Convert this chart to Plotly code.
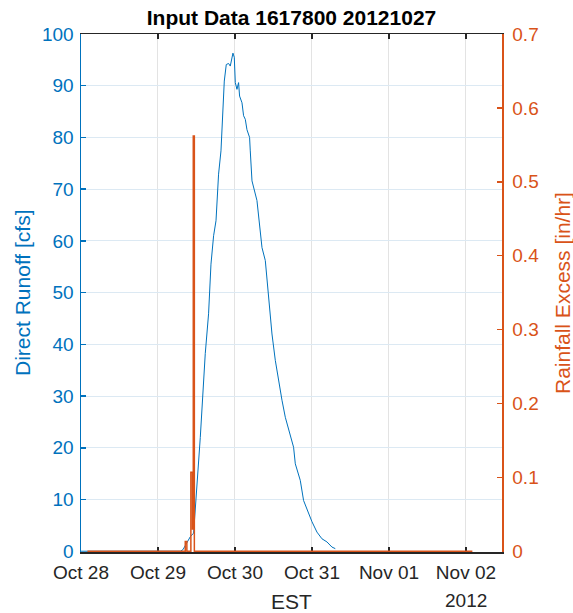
import plotly.graph_objects as go

# ---- data ----
runoff_time = [
    "2012-10-28 00:00", "2012-10-29 07:00", "2012-10-29 07:47", "2012-10-29 10:04",
    "2012-10-29 11:06", "2012-10-29 13:11", "2012-10-29 14:44", "2012-10-29 15:46",
    "2012-10-29 16:31", "2012-10-29 17:20", "2012-10-29 18:05", "2012-10-29 18:53",
    "2012-10-29 19:38", "2012-10-29 19:57", "2012-10-29 20:40", "2012-10-29 21:17",
    "2012-10-29 22:00", "2012-10-29 22:32", "2012-10-29 22:51", "2012-10-29 23:22",
    "2012-10-29 23:47", "2012-10-30 00:06", "2012-10-30 00:37", "2012-10-30 01:07",
    "2012-10-30 01:26", "2012-10-30 02:11", "2012-10-30 02:41", "2012-10-30 03:13",
    "2012-10-30 03:44", "2012-10-30 04:33", "2012-10-30 04:46", "2012-10-30 05:18",
    "2012-10-30 06:51", "2012-10-30 07:53", "2012-10-30 08:25", "2012-10-30 09:27",
    "2012-10-30 09:58", "2012-10-30 10:28", "2012-10-30 11:32", "2012-10-30 12:34",
    "2012-10-30 13:35", "2012-10-30 14:39", "2012-10-30 15:41", "2012-10-30 17:14",
    "2012-10-30 18:16", "2012-10-30 18:48", "2012-10-30 20:21", "2012-10-30 21:23",
    "2012-10-30 22:56", "2012-10-31 00:00", "2012-10-31 01:33", "2012-10-31 03:07",
    "2012-10-31 04:40", "2012-10-31 06:14", "2012-10-31 07:16",
]
runoff_cfs = [
    0, 0, 0.3, 2.8,
    3.5, 22, 38.2, 45.9,
    55.5, 61, 63.9, 72.9,
    77.4, 81.3, 90.9, 94.1,
    94.3, 93.8, 94.8, 96.3,
    95.5, 90.6, 89.3, 90.6,
    88, 86.7, 84.2, 83.5,
    81.5, 80, 77.4, 71.6,
    67.8, 62, 58.7, 56.2,
    52.3, 48.5, 42, 36.9,
    33, 29.2, 25.9, 22.7,
    20.1, 16.9, 13.7, 9.8,
    7.3, 5.7, 3.7, 2.4,
    1.8, 0.8, 0.5,
]

rain_time = [
    "2012-10-28 02:00", "2012-10-29 08:30", "2012-10-29 09:00", "2012-10-29 10:15",
    "2012-10-29 10:45", "2012-10-29 11:00", "2012-10-29 11:20", "2012-11-02 02:00",
]
rain_inhr = [0, 0.013, 0, 0.107, 0.03, 0.562, 0, 0]

tick_dates = ["2012-10-28", "2012-10-29", "2012-10-30", "2012-10-31", "2012-11-01", "2012-11-02"]
tick_labels = ["Oct 28", "Oct 29", "Oct 30", "Oct 31", "Nov 01", "Nov 02"]

BLUE = "#0072BD"
ORANGE = "#D95319"
DARK = "#262626"
FONT = "Liberation Sans, Arial, sans-serif"

W, H = 573, 613
PLOT_H = 518
PAD = 0.0015  # tiny bottom padding (fraction of range) so zero-level lines sit on the axis line

fig = go.Figure()
fig.add_trace(go.Scatter(x=runoff_time, y=runoff_cfs, mode="lines",
                         line=dict(color=BLUE, width=1), yaxis="y", showlegend=False))
fig.add_trace(go.Scatter(x=rain_time, y=rain_inhr, mode="lines", line_shape="hv",
                         line=dict(color=ORANGE, width=1.5), yaxis="y2", showlegend=False))

fig.update_layout(
    width=W, height=H,
    margin=dict(l=81, r=71, t=34, b=H - 34 - PLOT_H, autoexpand=False),
    paper_bgcolor="white", plot_bgcolor="white",
    font=dict(family=FONT, size=19, color=DARK),
    title=dict(text="<b>Input Data 1617800 20121027</b>", x=0.5, xanchor="center",
               xref="paper", y=1 - 18 / H, yanchor="middle",
               font=dict(size=21, color="black")),
    xaxis=dict(
        type="date", range=["2012-10-28 00:00", "2012-11-02 11:14"],
        tickmode="array", tickvals=tick_dates, ticktext=tick_labels,
        ticks="inside", ticklen=5, tickwidth=1.5, tickcolor=DARK,
        showline=True, linecolor=DARK, linewidth=1.5, mirror="ticks",
        showgrid=True, gridcolor="#e3e3e3", gridwidth=1,
        zeroline=False, layer="below traces", automargin=False,
        ticklabelstandoff=3,
        tickfont=dict(size=19, color=DARK),
    ),
    yaxis=dict(
        range=[-100 * PAD, 100], tickmode="linear", tick0=0, dtick=10,
        ticks="inside", ticklen=5, tickwidth=1.5, tickcolor=BLUE,
        showline=True, linecolor=BLUE, linewidth=1.5,
        showgrid=True, gridcolor="#dce9f3", gridwidth=1,
        zeroline=False, automargin=False, ticklabelstandoff=2,
        tickfont=dict(size=19, color=BLUE),
    ),
    yaxis2=dict(
        range=[-0.7 * PAD, 0.7], tickmode="linear", tick0=0, dtick=0.1,
        overlaying="y", side="right",
        ticks="inside", ticklen=5, tickwidth=1.5, tickcolor=ORANGE,
        showline=True, linecolor=ORANGE, linewidth=1.5,
        showgrid=False, zeroline=False, automargin=False, ticklabelstandoff=5,
        tickfont=dict(size=19, color=ORANGE),
    ),
    annotations=[
        dict(text="Direct Runoff [cfs]", x=0, xshift=22 - 81, y=0.5, xref="paper", yref="paper",
             showarrow=False, textangle=-90, font=dict(size=21, color=BLUE),
             xanchor="center", yanchor="middle"),
        dict(text="EST", x=0.5, y=-49 / PLOT_H, xref="paper", yref="paper",
             showarrow=False, font=dict(size=21, color=DARK),
             xanchor="center", yanchor="middle"),
        dict(text="2012", x="2012-11-02", y=-48 / PLOT_H, xref="x", yref="paper",
             showarrow=False, font=dict(size=19, color=DARK),
             xanchor="center", yanchor="middle"),
        dict(text="Rainfall Excess [in/hr]", x=1, xshift=562 - 502, y=0.5, xref="paper", yref="paper",
             showarrow=False, textangle=-90, font=dict(size=21, color=ORANGE),
             xanchor="center", yanchor="middle"),
    ],
)

fig.write_html(
    "out.html",
    config={"displayModeBar": False, "staticPlot": True},
    post_script="document.body.style.margin='0';document.body.style.overflow='hidden';",
)
